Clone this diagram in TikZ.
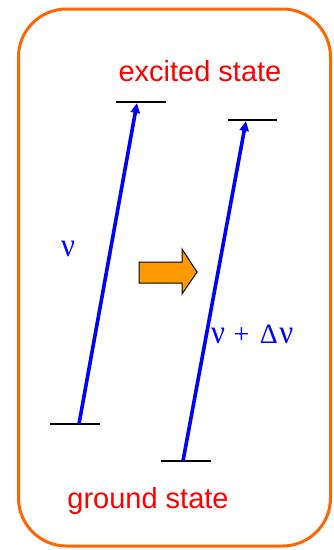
\documentclass[tikz,border=0pt]{standalone}
\usepackage{fontspec}
\setmainfont{Liberation Sans}
\newfontfamily\greekfont{Liberation Serif}
\usetikzlibrary{arrows.meta}
\definecolor{boxorange}{HTML}{FF6600}
\definecolor{fillorange}{HTML}{FF9900}
\definecolor{lblue}{HTML}{0000FF}
\definecolor{lred}{HTML}{FF0000}
\newcommand{\tallnu}{\scalebox{1.1}[1.2]{ν}}
\begin{document}
\begin{tikzpicture}[x=1pt,y=-1pt,
  level/.style={line width=2.8pt,black},
  trans/.style={line width=3.6pt,lblue,-{Triangle[length=10pt,width=9pt]}},
  statelabel/.style={text=lred,font=\fontsize{29}{32}\selectfont,inner sep=0pt,anchor=base},
  greeklabel/.style={text=lblue,font=\greekfont\fontsize{28}{30}\selectfont,inner sep=0pt}]
\useasboundingbox (0,0) rectangle (334,550);
\draw[boxorange,line width=3pt,rounded corners=48pt] (18.5,9) rectangle (330.5,546);
% levels
\coordinate (e1l) at (116,102); \coordinate (e1r) at (166,102);
\coordinate (e2l) at (228,120); \coordinate (e2r) at (277,120);
\coordinate (g1l) at (50,424); \coordinate (g1r) at (100,424);
\coordinate (g2l) at (161,461); \coordinate (g2r) at (211,461);
\draw[level] (e1l) -- (e1r);
\draw[level] (e2l) -- (e2r);
\draw[level] (g1l) -- (g1r);
\draw[level] (g2l) -- (g2r);
% transitions
\coordinate (a1s) at (79,424); \coordinate (a1e) at (137,103);
\coordinate (a2s) at (183,461); \coordinate (a2e) at (246,121);
\draw[trans] (a1s) -- (a1e);
\draw[trans] (a2s) -- (a2e);
% labels
\node[statelabel] (exc) at (200,81) {excited state};
\node[statelabel] (gnd) at (148,508) {ground state};
\node[greeklabel,anchor=base] (nu) at (68,256) {\tallnu};
\node[greeklabel,anchor=base west] (nudnu) at (211,343) {\tallnu\hspace{0.3em}+\hspace{0.38em}Δ\hspace{0.05em}\tallnu};
% orange arrow
\draw[fill=fillorange,draw=black,line width=1pt,line join=miter]
  (139,262) -- (182,262) -- (182,249) -- (197,272) -- (182,294) -- (182,283) -- (139,283) -- cycle;
\end{tikzpicture}
\end{document}
